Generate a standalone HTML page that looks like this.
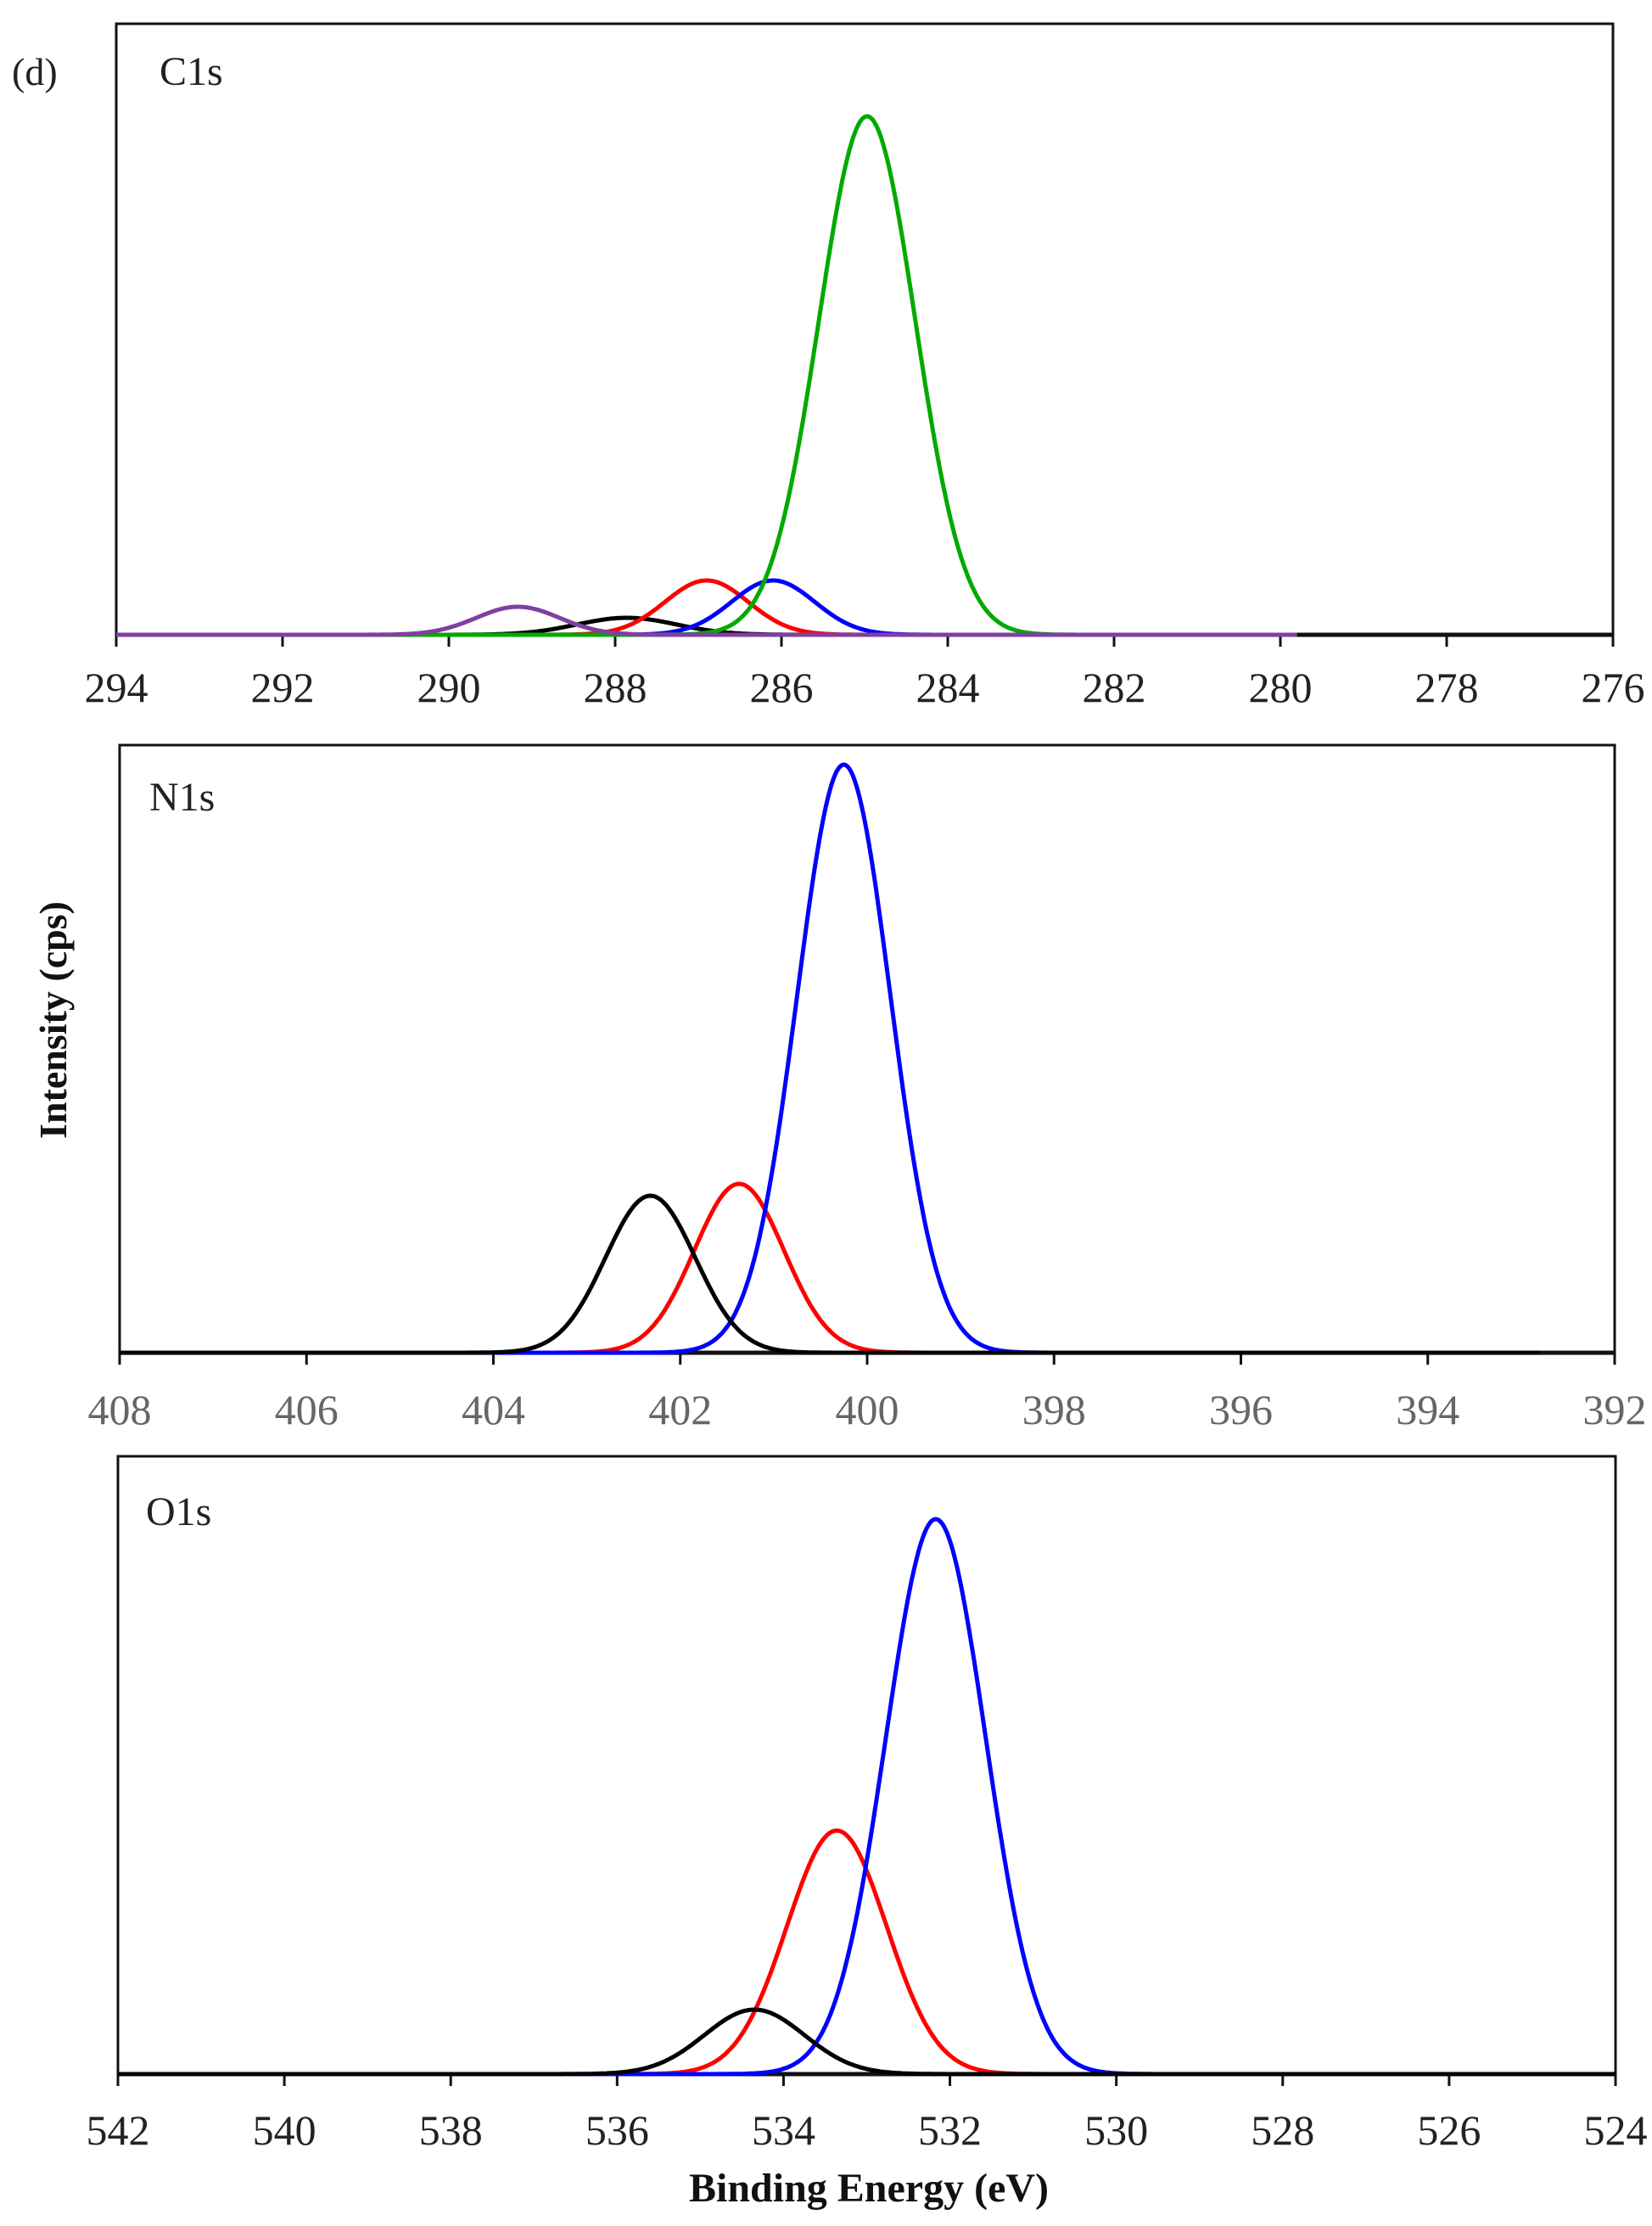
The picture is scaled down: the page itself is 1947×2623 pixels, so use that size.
<!DOCTYPE html>
<html><head><meta charset="utf-8"><style>
html,body{margin:0;padding:0;background:#fff;}
svg{display:block;}
text{font-family:"Liberation Serif",serif;}
</style></head><body>
<svg id="s" width="1947" height="2623" viewBox="0 0 1947 2623" xmlns="http://www.w3.org/2000/svg">
<rect width="1947" height="2623" fill="#fff"/>
<text x="14" y="100" font-size="46" fill="#222">(d)</text>
<text x="188" y="100" font-size="48" fill="#222">C1s</text>
<text x="176" y="955" font-size="48" fill="#222">N1s</text>
<text x="172" y="1797" font-size="48" fill="#222">O1s</text>
<text transform="translate(78,1202) rotate(-90)" text-anchor="middle" font-size="46" font-weight="bold" fill="#111">Intensity (cps)</text>
<text x="1024" y="2594" text-anchor="middle" font-size="48" font-weight="bold" fill="#111">Binding Energy (eV)</text>
<g id="g"></g>
</svg>
<script>
var g=document.getElementById('g');var NS='http://www.w3.org/2000/svg';
function el(t,a){var e=document.createElementNS(NS,t);for(var k in a)e.setAttribute(k,a[k]);g.appendChild(e);return e;}
function panel(p){
  var L=p.L,R=p.R,T=p.T,B=p.B,x0=p.x0,x1=p.x1;
  function X(v){return L+(x0-v)/(x0-x1)*(R-L);}
  el('rect',{x:L,y:T,width:R-L,height:B-T,fill:'none',stroke:'#111','stroke-width':3});
  el('line',{x1:L,y1:B,x2:R,y2:B,stroke:'#111','stroke-width':5});
  for(var v=x0;v>=x1;v-=2){var x=X(v);el('line',{x1:x,y1:B,x2:x,y2:B+14,stroke:'#111','stroke-width':3});
    var t=el('text',{x:x,y:p.ly,'text-anchor':'middle','font-size':50,fill:p.tc||'#222'});t.textContent=v;}
  p.peaks.forEach(function(k){
    var d='';var end=p.end||x1;
    for(var i=0;i<=800;i++){var v=x0+(end-x0)*i/800;var y=B-k.h*Math.exp(-Math.pow(v-k.c,2)/(2*k.s*k.s));d+=(i?'L':'M')+X(v).toFixed(1)+' '+y.toFixed(1);}
    el('path',{d:d,fill:'none',stroke:k.col,'stroke-width':5});
  });
}
panel({L:137,R:1901,T:28,B:748,x0:294,x1:276,ly:827,end:279.8,peaks:[
 {c:287.86,h:20,s:0.6,col:'#000'},{c:286.9,h:64,s:0.5,col:'#f00'},{c:286.1,h:64,s:0.5,col:'#00f'},
 {c:284.97,h:611,s:0.58,col:'#0a0'},{c:289.17,h:33,s:0.5,col:'#8040a0'}]});
panel({L:141,R:1903,T:878,B:1594,x0:408,x1:392,ly:1678,tc:'#666',end:392.8,peaks:[
 {c:401.37,h:199,s:0.48,col:'#f00'},{c:400.25,h:693,s:0.5,col:'#00f'},{c:402.32,h:185,s:0.48,col:'#000'}]});
panel({L:139,R:1904,T:1716,B:2444,x0:542,x1:524,ly:2527,peaks:[
 {c:533.36,h:287,s:0.6,col:'#f00'},{c:532.17,h:654,s:0.6,col:'#00f'},{c:534.35,h:76,s:0.6,col:'#000'}]});
</script>
</body></html>
